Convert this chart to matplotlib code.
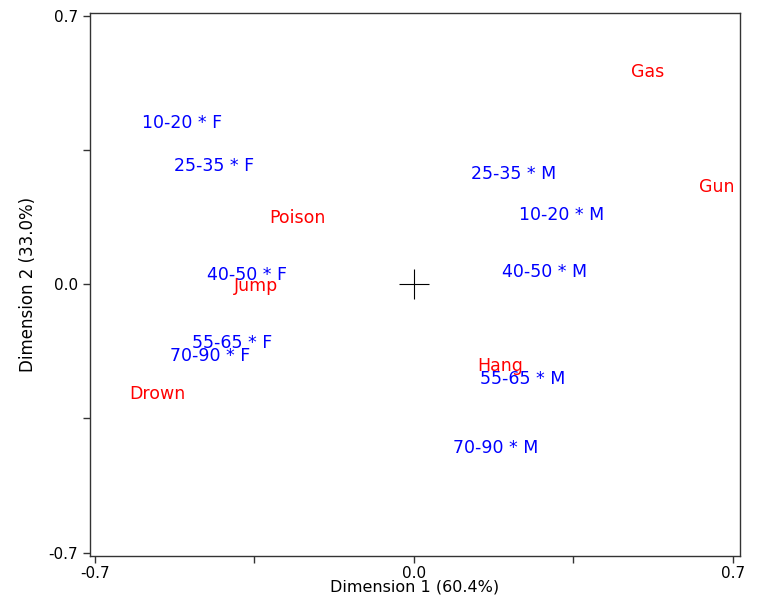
import matplotlib.pyplot as plt

# row points (age * sex) and column points (method), dims 1 and 2
age_sex = ['10-20 * F', '25-35 * F', '40-50 * F', '55-65 * F', '70-90 * F',
           '10-20 * M', '25-35 * M', '40-50 * M', '55-65 * M', '70-90 * M']
age_sex_d1 = [-0.509, -0.439, -0.367, -0.398, -0.448,
              0.325, 0.218, 0.288, 0.238, 0.179]
age_sex_d2 = [0.420, 0.308, 0.023, -0.154, -0.188,
              0.182, 0.287, 0.031, -0.248, -0.428]

method = ['Poison', 'Jump', 'Drown', 'Gas', 'Gun', 'Hang']
method_d1 = [-0.255, -0.347, -0.564, 0.514, 0.665, 0.190]
method_d2 = [0.172, -0.005, -0.287, 0.553, 0.255, -0.214]

ticks = [-0.7, -0.35, 0.0, 0.35, 0.7]
tick_labels = ['-0.7', '', '0.0', '', '0.7']

plt.rcParams['font.family'] = ['DejaVu Sans']

fig = plt.figure(figsize=(7.67, 5.96), dpi=100)
ax = fig.add_axes([0.1173, 0.0671, 0.8475, 0.9111])

for lab, x, y in zip(age_sex, age_sex_d1, age_sex_d2):
    ax.text(x, y, lab, color='#0000ff', fontsize=12.5, ha='center', va='center')
for lab, x, y in zip(method, method_d1, method_d2):
    ax.text(x, y, lab, color='#ff0000', fontsize=12.5, ha='center', va='center')

# origin marker
ax.plot([0], [0], marker='+', markersize=22, color='black', mew=0.8)

ax.set_xlim(-0.711, 0.716)
ax.set_ylim(-0.709, 0.708)
ax.set_xticks(ticks)
ax.set_xticklabels(tick_labels)
ax.set_yticks(ticks)
ax.set_yticklabels(tick_labels)
ax.tick_params(direction='out', length=5, width=1, labelsize=11, color='#333333')
ax.tick_params(axis='x', pad=2)
for s in ax.spines.values():
    s.set_color('#333333')
    s.set_linewidth(1)

ax.set_xlabel('Dimension 1 (60.4%)', fontsize=11.5, labelpad=-1)
ax.set_ylabel('Dimension 2 (33.0%)', fontsize=12, labelpad=8)

plt.savefig('out.png', dpi=100)
